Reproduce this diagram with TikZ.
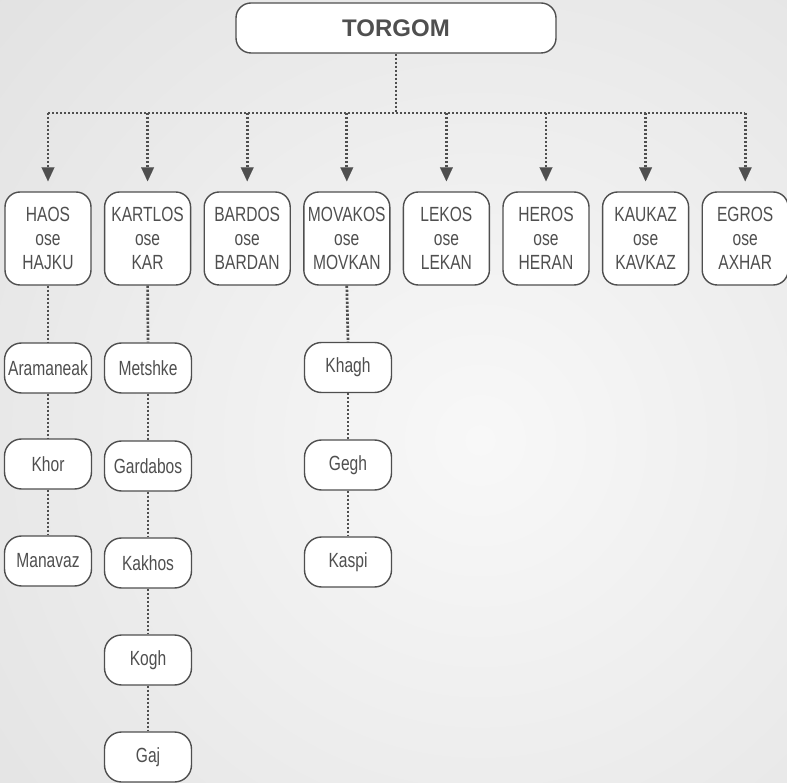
\documentclass[tikz,border=0pt]{standalone}
\usepackage{fontspec}
\setmainfont{Liberation Sans}[FakeStretch=0.76]
\newfontfamily\titlefont{Liberation Sans}
\usetikzlibrary{arrows.meta}
\definecolor{ink}{HTML}{4F4F4F}
\definecolor{bgout}{HTML}{CDCDCD}
\definecolor{bgin}{HTML}{F8F8F8}
\begin{document}
\begin{tikzpicture}[x=1pt,y=-1pt,
  box/.style={draw=ink,line width=1.4pt,fill=white,text=ink,font=\fontsize{20.5}{24}\selectfont,align=center,inner sep=0pt},
  lvl1/.style={box,minimum width=86pt,minimum height=93pt,rounded corners=15pt},
  child/.style={box,minimum width=87pt,minimum height=50pt,rounded corners=17pt},
  dots/.style={draw=ink,line width=2.7pt,dash pattern=on 2.2pt off 1.8pt},
  arr/.style={dots,-{Triangle[width=13pt,length=14pt,line width=0.1pt]},shorten >=10pt}]
\fill[bgout] (0,0) rectangle (787,783);
\begin{scope}
  \clip (0,0) rectangle (787,783);
  \shade[inner color=bgin,outer color=bgout] (480,440) circle (1300);
\end{scope}
\useasboundingbox (0,0) rectangle (787,783);

\node[box,minimum width=320pt,minimum height=50pt,rounded corners=15pt,font=\titlefont\bfseries\fontsize{24}{28}\selectfont] (top) at (396,28) {TORGOM};
\coordinate (hl) at (396,113);

\node[lvl1] (h1) at (48,238.5) {HAOS\\ose\\HAJKU};
\node[lvl1] (h2) at (147.6,238.5) {KARTLOS\\ose\\KAR};
\node[lvl1] (h3) at (247.2,238.5) {BARDOS\\ose\\BARDAN};
\node[lvl1] (h4) at (346.8,238.5) {MOVAKOS\\ose\\MOVKAN};
\node[lvl1] (h5) at (446.4,238.5) {LEKOS\\ose\\LEKAN};
\node[lvl1] (h6) at (546,238.5) {HEROS\\ose\\HERAN};
\node[lvl1] (h7) at (645.6,238.5) {KAUKAZ\\ose\\KAVKAZ};
\node[lvl1] (h8) at (745.2,238.5) {EGROS\\ose\\AXHAR};

\node[child] (a1) at (48,368) {Aramaneak};
\node[child] (a2) at (48,464) {Khor};
\node[child] (a3) at (48,561) {Manavaz};

\node[child] (b1) at (148,368) {Metshke};
\node[child] (b2) at (148,466) {Gardabos};
\node[child] (b3) at (148,563) {Kakhos};
\node[child] (b4) at (148,660) {Kogh};
\node[child] (b5) at (148,757) {Gaj};

\node[child] (c1) at (348,367.5) {Khagh};
\node[child] (c2) at (348,465) {Gegh};
\node[child] (c3) at (348,562) {Kaspi};

\draw[dots] (top.south) -- (top.south |- hl);
\draw[dots] (h1.north |- hl) -- (h8.north |- hl);
\foreach \i in {1,...,8} {\draw[arr] (h\i.north |- hl) -- (h\i.north);}

\draw[dots] (h1.south) -- (a1.north);
\draw[dots] (a1.south) -- (a2.north);
\draw[dots] (a2.south) -- (a3.north);
\draw[dots] (h2.south) -- (b1.north);
\draw[dots] (b1.south) -- (b2.north);
\draw[dots] (b2.south) -- (b3.north);
\draw[dots] (b3.south) -- (b4.north);
\draw[dots] (b4.south) -- (b5.north);
\draw[dots] (h4.south) -- (c1.north);
\draw[dots] (c1.south) -- (c2.north);
\draw[dots] (c2.south) -- (c3.north);
\end{tikzpicture}
\end{document}
